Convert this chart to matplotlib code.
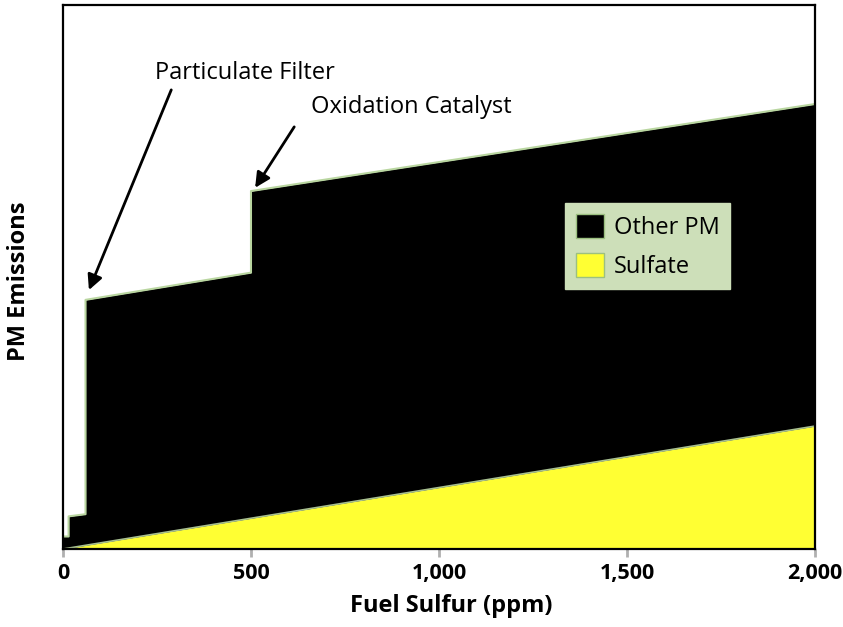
import numpy as np
import matplotlib
matplotlib.use("Agg")
import matplotlib.pyplot as plt
from matplotlib.patches import Patch

plt.rcParams['font.family'] = ['Open Sans', 'DejaVu Sans']

# fuel sulfur (ppm) breakpoints and total PM level (arbitrary units, 0-100)
sulfur = [0, 15, 15, 60, 60, 500, 500, 2000]
total_pm = [2.3, 2.3, 6.0, 6.4, 45.8, 50.8, 65.8, 81.8]
# sulfate grows linearly with fuel sulfur
sulfate_x = [0, 2000]
sulfate_y = [0.0, 22.6]

tick_vals = [0, 500, 1000, 1500, 2000]
tick_labels = ["0", "500", "1,000", "1,500", "2,000"]

fig = plt.figure(figsize=(8.43, 6.27), dpi=100)
ax = fig.add_axes([0.0747, 0.1244, 0.8921, 0.8676])

edge_green = '#b9d6a0'
ax.fill_between(sulfur, 0, total_pm, color='black', linewidth=0, zorder=1)
ax.plot(sulfur, total_pm, color=edge_green, lw=1.5, zorder=2)
ax.fill_between(sulfate_x, 0, sulfate_y, color='#ffff33', linewidth=0, zorder=3)
ax.plot(sulfate_x, sulfate_y, color='#a8c090', lw=1.2, zorder=4)

ax.set_xlim(0, 2000)
ax.set_ylim(0, 100)
ax.set_xticks(tick_vals)
ax.set_xticklabels(tick_labels, fontsize=15.5, fontweight='bold')
ax.set_yticks([])
ax.tick_params(axis='x', length=6, width=2, color='#b0b0b0', pad=4)
for s in ax.spines.values():
    s.set_linewidth(1.6)
    s.set_zorder(5)

fig.text(451 / 843, 1 - 606 / 627, "Fuel Sulfur (ppm)", fontsize=17,
         fontweight='bold', ha='center', va='center')
fig.text(19 / 843, 1 - 281 / 627, "PM Emissions", fontsize=17,
         fontweight='bold', ha='center', va='center', rotation=90)

arrow = dict(arrowstyle='-|>,head_length=0.9,head_width=0.45',
             color='black', lw=2, shrinkA=0, shrinkB=0)
ax.text(485, 87.5, "Particulate Filter", fontsize=17, ha='center', va='center')
ax.annotate("", xy=(69, 47.6), xytext=(288, 84.4), arrowprops=arrow)
ax.text(927, 81.2, "Oxidation Catalyst", fontsize=17, ha='center', va='center')
ax.annotate("", xy=(511, 66.4), xytext=(615, 77.6), arrowprops=arrow)

handles = [Patch(facecolor='black', edgecolor='#9cc080', label='Other PM'),
           Patch(facecolor='#ffff33', edgecolor='#9cc080', label='Sulfate')]
leg = ax.legend(handles=handles, loc='upper left', bbox_to_anchor=(0.668, 0.636),
                borderaxespad=0, fontsize=17, frameon=True, fancybox=False,
                handlelength=1.2, handleheight=1.2, handletextpad=0.4,
                borderpad=0.45, labelspacing=0.55)
leg.get_frame().set_facecolor('#cddfb9')
leg.get_frame().set_edgecolor('#cddfb9')
leg.get_frame().set_alpha(1)
leg.set_zorder(6)

fig.savefig("out.png", dpi=100)
